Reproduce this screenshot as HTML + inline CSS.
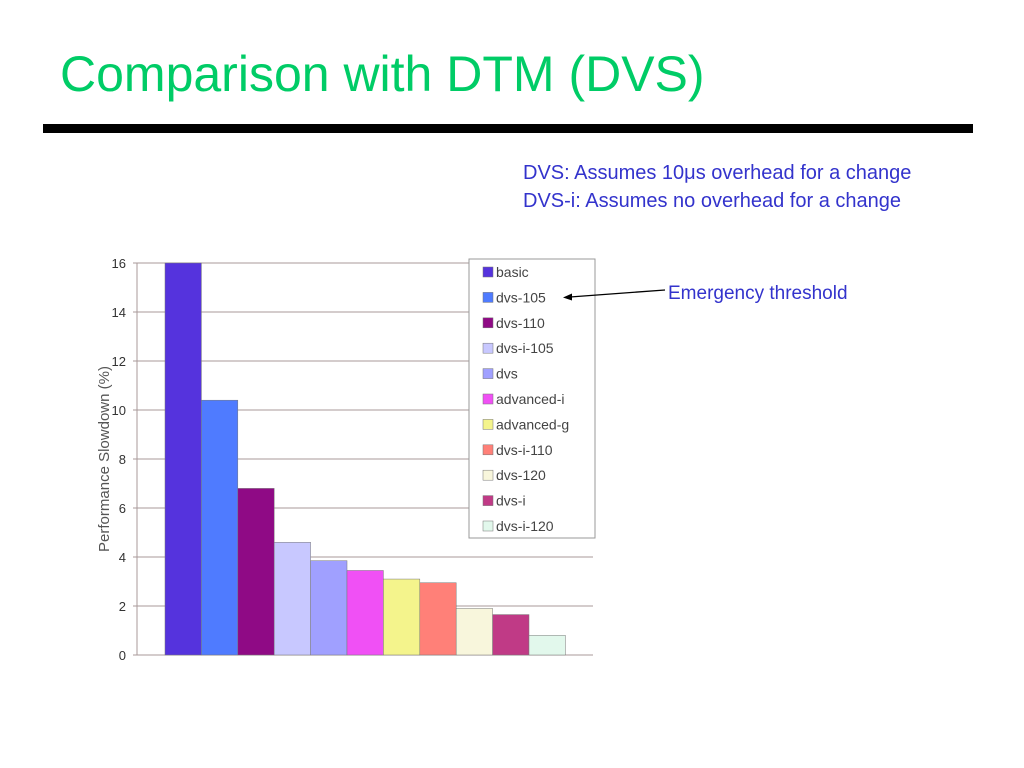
<!DOCTYPE html>
<html><head><meta charset="utf-8"><style>
body{margin:0;width:1024px;height:768px;background:#fff;font-family:"Liberation Sans",sans-serif;position:relative;overflow:hidden}
.t{position:absolute;white-space:nowrap}
</style></head><body>
<div class="t" style="left:60px;top:44px;font-size:50px;color:#00cc66;line-height:60px">Comparison with DTM (DVS)</div>
<div style="position:absolute;left:43px;top:124px;width:930px;height:9px;background:#000"></div>
<div class="t" style="left:523px;top:162px;font-size:20px;color:#3333cc">DVS: Assumes 10μs overhead for a change</div>
<div class="t" style="left:523px;top:190px;font-size:20px;color:#3333cc">DVS-i: Assumes no overhead for a change</div>
<div class="t" style="left:668px;top:283px;font-size:19px;color:#3333cc">Emergency threshold</div>
<svg id="chart" width="1024" height="768" style="position:absolute;left:0;top:0" xmlns="http://www.w3.org/2000/svg"></svg>
<script>
const categories=["basic","dvs-105","dvs-110","dvs-i-105","dvs","advanced-i","advanced-g","dvs-i-110","dvs-120","dvs-i","dvs-i-120"];
const values=[16,10.4,6.8,4.6,3.85,3.45,3.1,2.95,1.9,1.65,0.8];
const colors=["#5533dd","#4f7bff","#8f0a85","#c8c8ff","#a0a0ff","#f050f5","#f4f48c","#ff8078","#f8f6dc","#c03a86","#e2f8ec"];
const yTicks=[0,2,4,6,8,10,12,14,16];
const NS="http://www.w3.org/2000/svg";
const svg=document.getElementById('chart');
const x0=137,x1=593,yB=655,yT=263,yMax=16;
const y=v=>yB-(yB-yT)*v/yMax;
const barX=i=>165+i*36.4, bw=36.4;
function mk(tag,a){const e=document.createElementNS(NS,tag);for(const k in a)e.setAttribute(k,a[k]);svg.appendChild(e);return e;}
yTicks.forEach(t=>{
 const l=mk('line',{x1:x0-4,x2:x1,y1:y(t),y2:y(t),stroke:'#a89a9a','stroke-width':1});
 
 
 const tx=mk('text',{x:126,y:y(t)+5,'text-anchor':'end','font-size':13,fill:'#333','font-family':'Liberation Sans, sans-serif'});
 tx.textContent=t;
 
 
});
const ax=mk('line',{x1:x0,x2:x0,y1:yT,y2:yB,stroke:'#a89a9a'});


values.forEach((v,i)=>{
 const r=mk('rect',{x:barX(i),y:y(v),width:bw,height:yB-y(v),fill:colors[i],stroke:'#777','stroke-width':0.5});
 
 
});
const yt=mk('text',{x:0,y:0,transform:'translate(109,459) rotate(-90)','text-anchor':'middle','font-size':15,fill:'#555','font-family':'Liberation Sans, sans-serif'});
yt.textContent='Performance Slowdown (%)';


const lg=mk('rect',{x:469,y:259,width:126,height:279,fill:'#fff',stroke:'#999'});


categories.forEach((c,i)=>{
 const cy=272+i*25.4;
 const s=mk('rect',{x:483,y:cy-5,width:10,height:10,fill:colors[i],stroke:'#777','stroke-width':0.5});
 
 
 const t=mk('text',{x:496,y:cy+5,'font-size':14,fill:'#444','font-family':'Liberation Sans, sans-serif'});
 t.textContent=c;
 
 
});
const ar=mk('line',{x1:665,y1:290,x2:570,y2:297,stroke:'#000','stroke-width':1.3});


const ah=mk('polygon',{points:'563,297.5 572,293.5 572,300.5',fill:'#000'});


</script>
</body></html>
